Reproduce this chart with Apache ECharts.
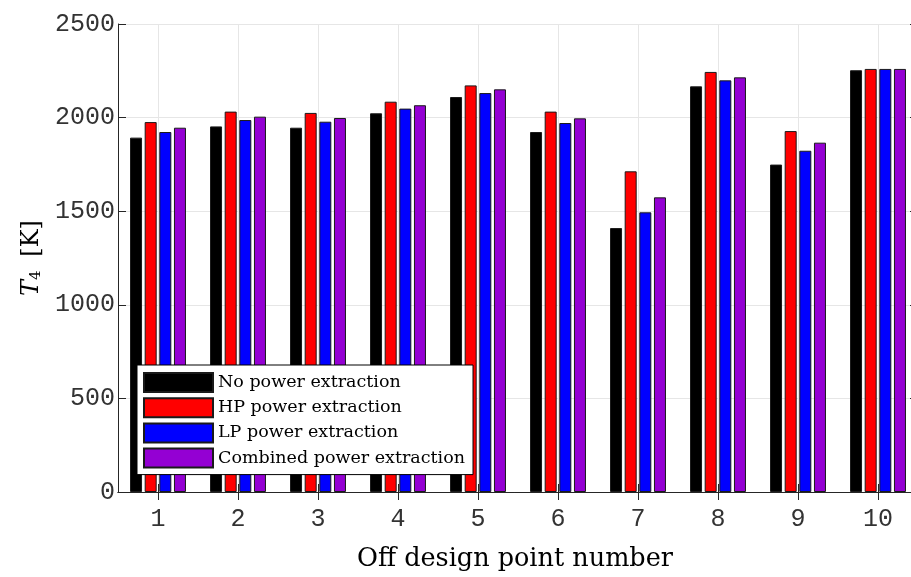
<!DOCTYPE html>
<html>
<head>
<meta charset="utf-8">
<style>html,body{margin:0;padding:0;background:#fff;}#chart{width:911px;height:577px;}</style>
<script src="https://cdn.jsdelivr.net/npm/echarts@6/dist/echarts.min.js"></script>
</head>
<body>
<div id="chart"></div>
<script>
// ---- data ----
const categories = ['1', '2', '3', '4', '5', '6', '7', '8', '9', '10'];
const seriesNames = ['No power extraction', 'HP power extraction', 'LP power extraction', 'Combined power extraction'];
const noPower  = [1893, 1953, 1946, 2023, 2110, 1923, 1410, 2167, 1749, 2253];
const hpPower  = [1976, 2032, 2025, 2085, 2172, 2032, 1713, 2244, 1928, 2260];
const lpPower  = [1923, 1987, 1978, 2048, 2131, 1971, 1494, 2199, 1823, 2260];
const combined = [1946, 2005, 1998, 2066, 2151, 1996, 1574, 2215, 1866, 2260];
const yMin = 0, yMax = 2500, yStep = 500;
const xTitle = 'Off design point number';

const colors = ['#000000', '#ff0000', '#0000ff', '#9400d3'];
const values = [noPower, hpPower, lpPower, combined];
const axisColor = '#262626';
const gridColor = '#e6e6e6';
const serif = 'DejaVu Serif';
const mono = 'Liberation Mono';

const chart = echarts.init(document.getElementById('chart'), null, {renderer: 'canvas'});

const series = seriesNames.map((name, i) => ({
  name: name,
  type: 'bar',
  xAxisIndex: 0,
  yAxisIndex: 0,
  data: values[i],
  barWidth: 12,
  barGap: '22%',
  itemStyle: {color: colors[i], borderColor: '#1a1a1a', borderWidth: 1},
  emphasis: {disabled: true},
  animation: false
}));

chart.setOption({
  animation: false,
  grid: {left: 118, right: -7, top: 24, bottom: 85, containLabel: false, outerBoundsMode: 'none'},
  legend: {
    orient: 'vertical',
    left: 137,
    top: 365,
    padding: [7, 8, 6, 6],
    itemWidth: 69,
    itemHeight: 19,
    itemGap: 4.2,
    icon: 'rect',
    backgroundColor: '#ffffff',
    borderColor: '#000000',
    borderWidth: 1,
    borderRadius: 0,
    selectedMode: false,
    textStyle: {fontFamily: serif, fontSize: 17.5, lineHeight: 19, color: '#000'},
    data: seriesNames
  },
  xAxis: [
    {
      type: 'category',
      position: 'bottom',
      data: categories,
      boundaryGap: true,
      axisLine: {show: true, lineStyle: {color: axisColor, width: 1}},
      axisTick: {show: true, inside: true, alignWithLabel: true, length: 8, lineStyle: {color: axisColor}},
      axisLabel: {show: true, margin: 15, fontFamily: mono, fontSize: 25, color: '#333'},
      splitLine: {show: false},
      name: xTitle,
      nameLocation: 'middle',
      nameGap: 54,
      nameTextStyle: {fontFamily: serif, fontSize: 25.5, color: '#000', padding: [0, 6, 0, 0]}
    },
    {
      type: 'category',
      position: 'top',
      data: categories,
      boundaryGap: true,
      axisLine: {show: true, lineStyle: {color: axisColor, width: 1}},
      axisTick: {show: true, inside: true, alignWithLabel: true, length: 8, lineStyle: {color: axisColor}},
      axisLabel: {show: false},
      splitLine: {show: false}
    },
    {
      type: 'value',
      position: 'bottom',
      min: 0,
      max: 20,
      interval: 1,
      axisLine: {show: false},
      axisTick: {show: false},
      axisLabel: {show: false},
      splitLine: {show: true, lineStyle: {color: ['rgba(0,0,0,0)', gridColor], width: 1}}
    }
  ],
  yAxis: [
    {
      type: 'value',
      position: 'left',
      min: yMin,
      max: yMax,
      interval: yStep,
      axisLine: {show: true, lineStyle: {color: axisColor, width: 1}},
      axisTick: {show: true, inside: true, length: 8, lineStyle: {color: axisColor}},
      axisLabel: {show: true, margin: 3, fontFamily: mono, fontSize: 25, color: '#333', formatter: (v) => String(v)},
      splitLine: {show: true, lineStyle: {color: gridColor, width: 1}},
      name: '{i|T}{s|4} [K]',
      nameLocation: 'middle',
      nameRotate: 90,
      nameGap: 62,
      nameTextStyle: {
        fontFamily: serif, fontSize: 24, color: '#000',
        rich: {
          i: {fontFamily: serif, fontStyle: 'italic', fontSize: 24, color: '#000'},
          s: {fontFamily: serif, fontSize: 15, color: '#000', verticalAlign: 'bottom', lineHeight: 22, padding: [0, 6, 0, 0]}
        }
      }
    },
    {
      type: 'value',
      position: 'right',
      min: yMin,
      max: yMax,
      interval: yStep,
      axisLine: {show: true, lineStyle: {color: axisColor, width: 1}},
      axisTick: {show: true, inside: true, length: 8, lineStyle: {color: axisColor}},
      axisLabel: {show: false},
      splitLine: {show: false}
    }
  ],
  series: series
});
</script>
</body>
</html>
